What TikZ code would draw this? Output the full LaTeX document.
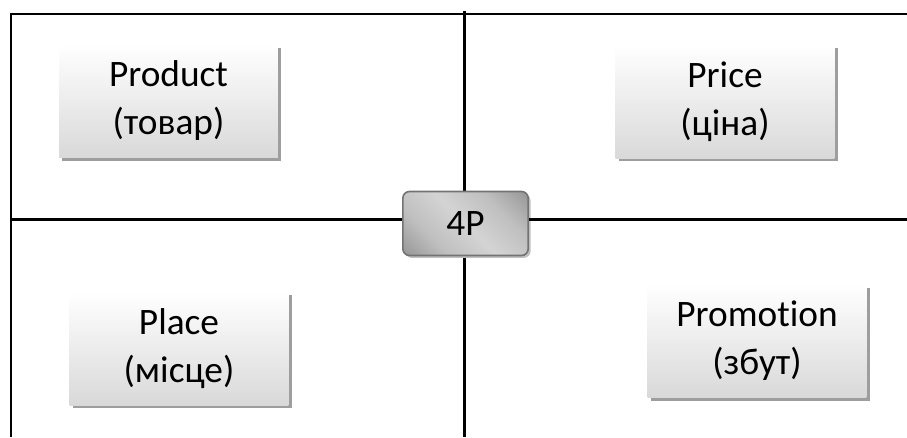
\documentclass[tikz,border=0pt]{standalone}
\usepackage{fontspec}
\setmainfont[Ligatures=NoCommon]{Carlito}
\usetikzlibrary{shadows}
\pgfdeclarehorizontalshading{fourpshade}{100bp}{color(0bp)=(black!55); color(32bp)=(black!25); color(50bp)=(black!17); color(68bp)=(black!25); color(100bp)=(black!55)}
\begin{document}
\begin{tikzpicture}[x=0.75pt,y=-0.75pt,
  frameline/.style={line width=2.2pt, black},
  midline/.style={line width=1.6pt, black},
  pbox/.style={rectangle, draw=none, top color=white, bottom color=black!15,
    minimum width=164pt, minimum height=85pt, inner sep=0pt, align=center,
    font=\fontsize{28}{36}\selectfont,
    drop shadow={shadow xshift=2.4pt, shadow yshift=-2.4pt, fill=black!38, opacity=1}},
  centerbox/.style={rectangle, rounded corners=5pt, draw=black!55, line width=1.2pt,
    shading=fourpshade, shading angle=45,
    minimum width=94pt, minimum height=48pt, inner sep=0pt,
    font=\fontsize{28}{30}\selectfont,
    drop shadow={shadow xshift=1.8pt, shadow yshift=-1.8pt, fill=black!25, opacity=1}}]
\useasboundingbox (0,0) rectangle (907,437);
% frame and cross lines
\coordinate (tl) at (11,14);
\coordinate (tr) at (907,14);
\coordinate (bl) at (11,437);
\coordinate (vt) at (464.5,11);
\coordinate (vb) at (464.5,437);
\coordinate (ml) at (11,219.5);
\coordinate (mr) at (907,219.5);
\draw[frameline] (bl) -- (tl) -- (tr);
\draw[midline] (vt) -- (vb);
% boxes
\node[pbox] (product) at (168.5,101) {Product\\(товар)};
\node[pbox] (price) at (725,101.5) {Price\\(ціна)};
\node[pbox] (place) at (179,348.5) {Place\\(місце)};
\node[pbox] (promotion) at (757,341) {Promo\kern0pt tion\\(збут)};
\node[centerbox] (fourp) at (465.5,223.5) {4P};
\draw[midline] (ml) -- (ml -| fourp.west);
\draw[midline] (mr -| fourp.east) -- (mr);
\end{tikzpicture}
\end{document}
